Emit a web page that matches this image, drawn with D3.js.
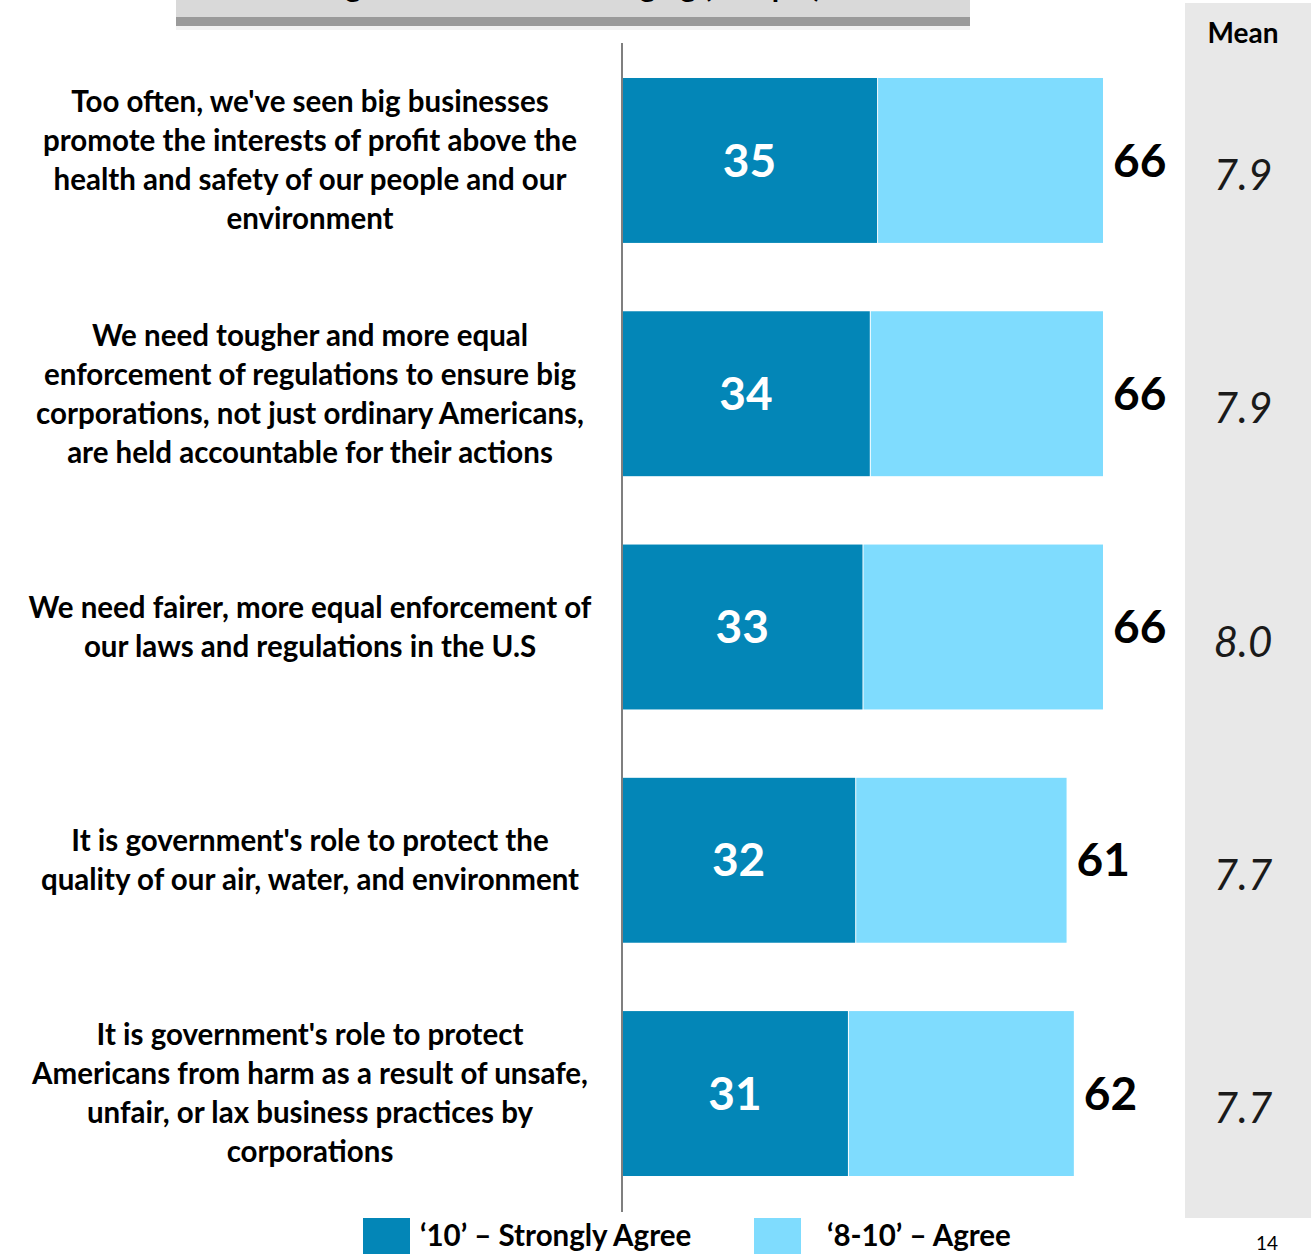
<!DOCTYPE html>
<html>
<head>
<meta charset="utf-8">
<script src="https://cdn.jsdelivr.net/npm/d3@7"></script>
<style>
  html, body { margin: 0; padding: 0; background: #fff; }
  svg { display: block; }
  text { font-family: Lato, "Open Sans", sans-serif; }
</style>
</head>
<body>
<svg id="chart" width="1311" height="1255"></svg>
<script>
// Statements (one array entry per wrapped line)
const statements = [
  ["Too often, we've seen big businesses", "promote the interests of profit above the", "health and safety of our people and our", "environment"],
  ["We need tougher and more equal", "enforcement of regulations to ensure big", "corporations, not just ordinary Americans,", "are held accountable for their actions"],
  ["We need fairer, more equal enforcement of", "our laws and regulations in the U.S"],
  ["It is government's role to protect the", "quality of our air, water, and environment"],
  ["It is government's role to protect", "Americans from harm as a result of unsafe,", "unfair, or lax business practices by", "corporations"]
];
const strongAgree = [35, 34, 33, 32, 31];   // '10'
const totalAgree  = [66, 66, 66, 61, 62];   // '8-10'
const meanScores  = ["7.9", "7.9", "8.0", "7.7", "7.7"];
const seriesNames = ["\u201810\u2019 \u2013 Strongly Agree", "\u20188-10\u2019 \u2013 Agree"];
const titleText = "Agreement With Messaging (% top 3)";
const pageNumber = "14";

const darkBlue = "#0386b7";
const lightBlue = "#7fdcfe";

const svg = d3.select("#chart");

// title banner, mostly above the top edge
const banner = svg.append("g");
banner.append("rect").attr("x", 176).attr("y", 14).attr("width", 794).attr("height", 16)
  .attr("fill", "#f2f2f2");
banner.append("rect").attr("x", 176).attr("y", 17).attr("width", 794).attr("height", 9)
  .attr("fill", "#9a9a9a");
banner.append("rect").attr("x", 176).attr("y", -10).attr("width", 794).attr("height", 27)
  .attr("fill", "#d9d9d9");
banner.append("text").attr("x", 573).attr("y", -3).attr("text-anchor", "middle")
  .attr("font-weight", 700).attr("font-size", 30).attr("fill", "#000").text(titleText);

// mean column
svg.append("rect").attr("x", 1185).attr("y", 3).attr("width", 126).attr("height", 1215)
  .attr("fill", "#e8e8e8");
svg.append("text").attr("x", 1243).attr("y", 43).attr("text-anchor", "middle")
  .attr("font-weight", 700).attr("font-size", 28).attr("fill", "#000").text("Mean");

// scales
const x = d3.scaleLinear().domain([0, 66]).range([622, 1103]);
const y = d3.scaleBand().domain(d3.range(statements.length)).range([43, 1211])
  .paddingInner(0.293).paddingOuter(0.15);

const rows = svg.append("g").selectAll("g").data(statements).join("g");

// '8-10' remainder segment (from strong agree up to total)
rows.append("rect")
  .attr("x", (d, i) => x(strongAgree[i]) + 1)
  .attr("y", (d, i) => y(i))
  .attr("width", (d, i) => x(totalAgree[i]) - x(strongAgree[i]) - 1)
  .attr("height", y.bandwidth())
  .attr("fill", lightBlue);

// '10' segment
rows.append("rect")
  .attr("x", x(0))
  .attr("y", (d, i) => y(i))
  .attr("width", (d, i) => x(strongAgree[i]) - x(0))
  .attr("height", y.bandwidth())
  .attr("fill", darkBlue);

// value inside dark segment
rows.append("text")
  .attr("x", (d, i) => (x(0) + x(strongAgree[i])) / 2)
  .attr("y", (d, i) => y(i) + y.bandwidth() / 2)
  .attr("dy", "0.35em")
  .attr("text-anchor", "middle")
  .attr("font-weight", 700).attr("font-size", 46).attr("fill", "#fff")
  .text((d, i) => strongAgree[i]);

// total value
rows.append("text")
  .attr("x", (d, i) => x(totalAgree[i]) + 10)
  .attr("y", (d, i) => y(i) + y.bandwidth() / 2)
  .attr("dy", "0.35em")
  .attr("font-weight", 700).attr("font-size", 46).attr("fill", "#000")
  .text((d, i) => totalAgree[i]);

// mean value
rows.append("text")
  .attr("x", 1243)
  .attr("y", (d, i) => y(i) + y.bandwidth() / 2 + 15)
  .attr("dy", "0.35em")
  .attr("text-anchor", "middle")
  .attr("font-style", "italic").attr("font-size", 42).attr("fill", "#1a1a1a")
  .text((d, i) => meanScores[i]);

// statement labels
const lineH = 39;
rows.append("text")
  .attr("text-anchor", "middle")
  .attr("font-weight", 700).attr("font-size", 29.5).attr("fill", "#000")
  .each(function (d, i) {
    const t = d3.select(this);
    const cy = y(i) + y.bandwidth() / 2;
    const top = cy - (d.length - 1) * lineH / 2;
    d.forEach((line, k) => {
      t.append("tspan").attr("x", 310).attr("y", top + k * lineH).attr("dy", "0.35em").text(line);
    });
  });

// vertical axis line
svg.append("line").attr("x1", 622).attr("x2", 622).attr("y1", 43).attr("y2", 1212)
  .attr("stroke", "#7f7f7f").attr("stroke-width", 2);

// legend
const legend = svg.append("g");
const legendItems = [
  { name: seriesNames[0], color: darkBlue, sx: 363, tx: 420 },
  { name: seriesNames[1], color: lightBlue, sx: 754, tx: 827 }
];
legendItems.forEach(it => {
  legend.append("rect").attr("x", it.sx).attr("y", 1218).attr("width", 47).attr("height", 36)
    .attr("fill", it.color);
  legend.append("text").attr("x", it.tx).attr("y", 1236).attr("dy", "0.35em")
    .attr("font-weight", 700).attr("font-size", 29.5).attr("fill", "#000").text(it.name);
});

svg.append("text").attr("x", 1267).attr("y", 1243).attr("dy", "0.35em").attr("text-anchor", "middle")
  .attr("font-size", 19).attr("fill", "#000").text(pageNumber);
</script>
</body>
</html>
